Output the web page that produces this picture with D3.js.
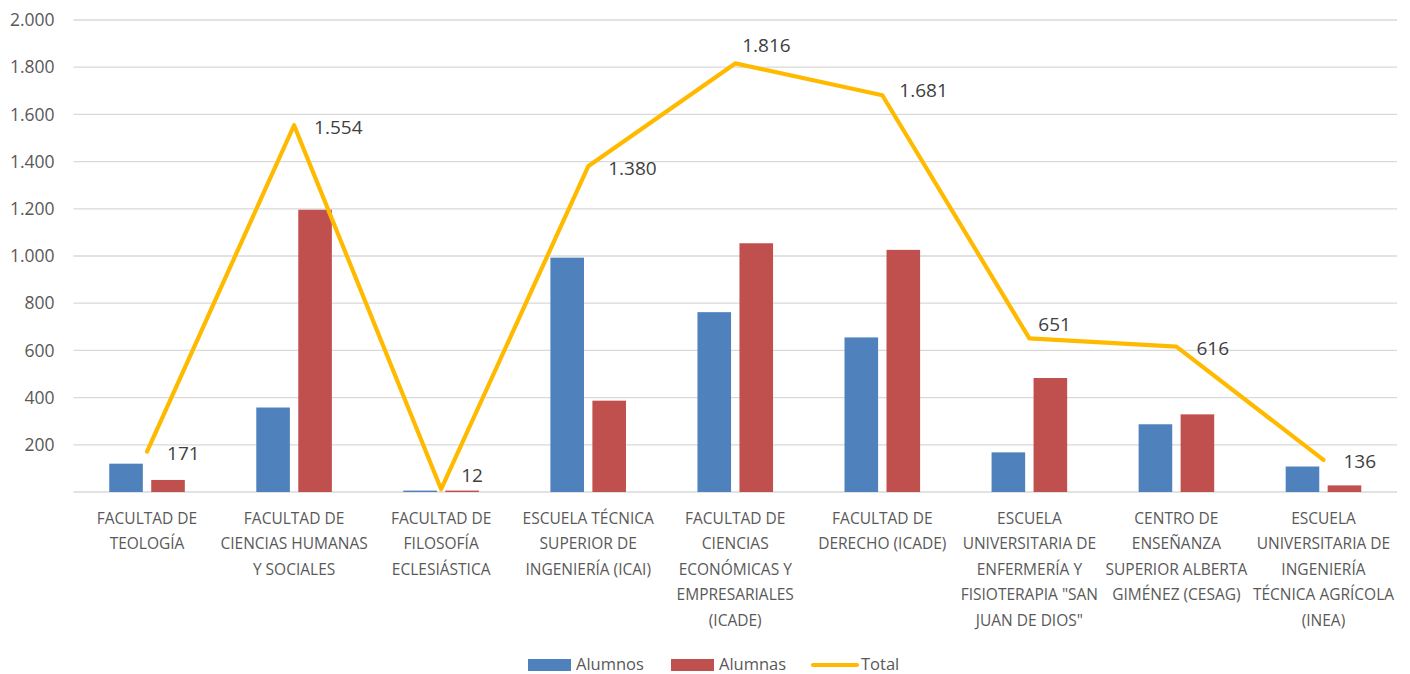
<!DOCTYPE html>
<html>
<head>
<meta charset="utf-8">
<script src="https://cdn.jsdelivr.net/npm/d3@7/dist/d3.min.js"></script>
<style>
  body { margin: 0; background: #fff; }
  svg text { font-family: "Open Sans", "Noto Sans", sans-serif; }
</style>
</head>
<body>
<script>
const width = 1410;
const height = 674;
const margin = {left: 73.5, right: 13, top: 20, bottom: 182};

// data
const categories = [
  ["FACULTAD DE", "TEOLOGÍA"],
  ["FACULTAD DE", "CIENCIAS HUMANAS", "Y SOCIALES"],
  ["FACULTAD DE", "FILOSOFÍA", "ECLESIÁSTICA"],
  ["ESCUELA TÉCNICA", "SUPERIOR DE", "INGENIERÍA (ICAI)"],
  ["FACULTAD DE", "CIENCIAS", "ECONÓMICAS Y", "EMPRESARIALES", "(ICADE)"],
  ["FACULTAD DE", "DERECHO (ICADE)"],
  ["ESCUELA", "UNIVERSITARIA DE", "ENFERMERÍA Y", "FISIOTERAPIA \"SAN", "JUAN DE DIOS\""],
  ["CENTRO DE", "ENSEÑANZA", "SUPERIOR ALBERTA", "GIMÉNEZ (CESAG)"],
  ["ESCUELA", "UNIVERSITARIA DE", "INGENIERÍA", "TÉCNICA AGRÍCOLA", "(INEA)"]
];
const alumnos = [120, 358, 6, 993, 762, 655, 168, 287, 108];
const alumnas = [51, 1196, 6, 387, 1054, 1026, 483, 329, 28];
const total = [171, 1554, 12, 1380, 1816, 1681, 651, 616, 136];
const yTicks = [200, 400, 600, 800, 1000, 1200, 1400, 1600, 1800, 2000];
const seriesNames = ["Alumnos", "Alumnas", "Total"];

const colors = {Alumnos: "#4F81BD", Alumnas: "#C0504D", Total: "#FFBA00"};
const fmt = d3.formatLocale({decimal: ",", thousands: ".", grouping: [3]}).format(",d");

const svg = d3.select("body").append("svg").attr("width", width).attr("height", height);

const ids = categories.map((c, i) => i);
const x0 = d3.scaleBand().domain(ids)
  .range([margin.left, width - margin.right])
  .paddingInner(0.486).paddingOuter(0.243);
const x1 = d3.scaleBand().domain(["Alumnos", "Alumnas"])
  .range([0, x0.bandwidth()]).paddingInner(0.2);
const y = d3.scaleLinear().domain([0, 2000]).range([height - margin.bottom, margin.top]);
const xc = i => x0(i) + x0.bandwidth() / 2;

// gridlines
svg.append("g").selectAll("line").data([0].concat(yTicks)).enter()
  .append("line")
  .attr("x1", margin.left).attr("x2", width - margin.right)
  .attr("y1", d => y(d)).attr("y2", d => y(d))
  .attr("stroke", "#D9D9D9").attr("stroke-width", 1.3);

// y axis labels
const yAxis = d3.axisLeft(y).tickValues(yTicks).tickFormat(fmt).tickSize(0).tickPadding(19);
svg.append("g").attr("transform", `translate(${margin.left},0)`).call(yAxis)
  .call(g => g.select(".domain").remove())
  .selectAll("text")
  .attr("font-family", "'Open Sans', sans-serif")
  .attr("font-size", 17.5).attr("fill", "#595959");

// bars
const groups = svg.append("g").selectAll("g").data(ids).enter()
  .append("g").attr("transform", i => `translate(${x0(i)},0)`);
groups.selectAll("rect")
  .data(i => [{k: "Alumnos", v: alumnos[i]}, {k: "Alumnas", v: alumnas[i]}])
  .enter().append("rect")
  .attr("x", d => x1(d.k))
  .attr("y", d => y(d.v))
  .attr("width", x1.bandwidth())
  .attr("height", d => y(0) - y(d.v))
  .attr("fill", d => colors[d.k]);

// total line
const line = d3.line().x((d, i) => xc(i)).y(d => y(d));
svg.append("path").datum(total)
  .attr("d", line)
  .attr("fill", "none")
  .attr("stroke", colors.Total)
  .attr("stroke-width", 4.2)
  .attr("stroke-linecap", "round")
  .attr("stroke-linejoin", "round");

// total labels (a few were moved by hand in the original)
const nudge = {2: [0, -16], 4: [-13, -20], 5: [-3, -7], 6: [-11, -16]};
svg.append("g").selectAll("text").data(total).enter()
  .append("text")
  .attr("x", (d, i) => xc(i) + 20 + (nudge[i] ? nudge[i][0] : 0))
  .attr("y", (d, i) => y(d) + 1.5 + (nudge[i] ? nudge[i][1] : 0))
  .attr("dy", "0.36em")
  .attr("font-size", 19)
  .attr("fill", "#404040")
  .text(d => fmt(d));

// category labels
const catG = svg.append("g").selectAll("text").data(ids).enter()
  .append("text")
  .attr("text-anchor", "middle")
  .attr("font-size", 15.5)
  .attr("fill", "#595959");
catG.selectAll("tspan").data(i => categories[i].map(t => ({t, i}))).enter()
  .append("tspan")
  .attr("x", d => xc(d.i))
  .attr("y", (d, j) => 518 + j * 25.6)
  .attr("dy", "0.36em")
  .text(d => d.t);

// legend
const legendX = [528, 671, 811];
const leg = svg.append("g").selectAll("g").data(seriesNames).enter()
  .append("g").attr("transform", (d, i) => `translate(${legendX[i]},664.5)`);
leg.filter(d => d !== "Total").append("rect")
  .attr("x", 0).attr("y", -5.5).attr("width", 43).attr("height", 12)
  .attr("fill", d => colors[d]);
leg.filter(d => d === "Total").append("line")
  .attr("x1", 2).attr("x2", 46).attr("y1", 0.5).attr("y2", 0.5)
  .attr("stroke", colors.Total).attr("stroke-width", 4.2).attr("stroke-linecap", "round");
leg.append("text")
  .attr("x", d => d === "Total" ? 50 : 48)
  .attr("y", 0).attr("dy", "0.36em")
  .attr("font-size", 16.5)
  .attr("fill", "#595959")
  .text(d => d);
</script>
</body>
</html>
